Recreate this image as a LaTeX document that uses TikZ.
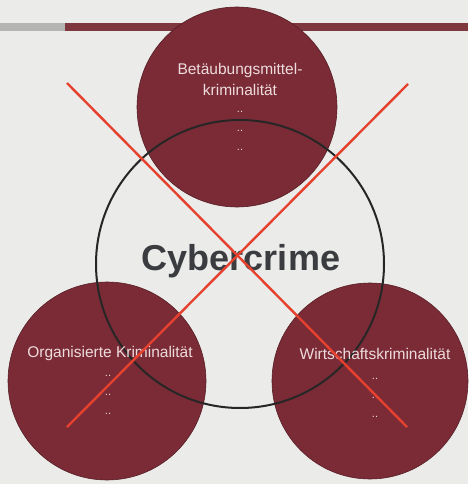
\documentclass[tikz,border=0pt]{standalone}
\usepackage{fontspec}
\setmainfont{Liberation Sans}
\definecolor{bg}{HTML}{EBEBE9}
\definecolor{wine}{HTML}{7B2B36}
\definecolor{barbrown}{HTML}{7E383D}
\definecolor{bargray}{HTML}{B4B4B2}
\definecolor{xred}{HTML}{E5412E}
\definecolor{txtlight}{HTML}{EDDCDD}
\definecolor{darktxt}{HTML}{3A3C3F}
\tikzset{
  bigcirc/.style={circle, fill=wine, draw=wine!70!black, line width=0.6pt, minimum size=200pt, inner sep=0pt},
  lbl/.style={text=txtlight, font=\fontsize{15.5}{21}\selectfont, align=center, inner sep=0pt},
  dots/.style={text=txtlight, font=\fontsize{11}{12}\selectfont, inner sep=0pt},
  cross/.style={draw=xred, line width=2.4pt},
}
\begin{document}
\begin{tikzpicture}[x=1pt,y=-1pt]
\fill[bg] (0,0) rectangle (468,484);
\useasboundingbox (0,0) rectangle (468,484);
\fill[bargray] (0,23) rectangle (65,31);
\fill[barbrown] (65,23) rectangle (468,31);
\node[bigcirc] (top) at (237,107) {};
\node[bigcirc, minimum size=198pt] (left) at (107,381) {};
\node[bigcirc, minimum size=196pt] (right) at (370,381) {};
\node[circle, draw=black!85, line width=2pt, minimum size=288pt, inner sep=0pt] (mid) at (240,264) {};
\node[lbl] (toplbl) at (240,79) {Betäubungsmittel-\\kriminalität};
\node[dots] (td1) at (240,112) {..};
\node[dots] (td2) at (240,131) {..};
\node[dots] (td3) at (240,150) {..};
\node[lbl] (leftlbl) at (110,353) {Organisierte Kriminalität};
\node[dots] (ld1) at (108,376) {..};
\node[dots] (ld2) at (108,395) {..};
\node[dots] (ld3) at (108,414) {..};
\node[lbl] (rightlbl) at (375,354) {Wirtschaftskriminalität};
\node[dots] (rd1) at (375,379) {..};
\node[dots] (rd2) at (375,398) {..};
\node[dots] (rd3) at (375,417) {..};
\node[text=darktxt, font=\fontsize{36}{40}\selectfont\bfseries, inner sep=0pt] (cyber) at (241,261) {Cybercrime};
\coordinate (a1) at (67,83);
\coordinate (a2) at (407,427);
\coordinate (b1) at (408,84);
\coordinate (b2) at (67,427);
\draw[cross] (a1) -- (a2);
\draw[cross] (b1) -- (b2);
\end{tikzpicture}
\end{document}
